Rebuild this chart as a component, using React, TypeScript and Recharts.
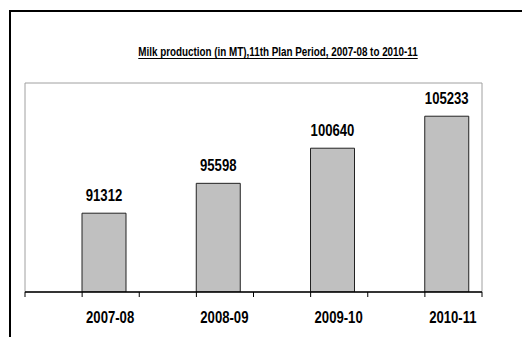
import React from "react";
import { BarChart, Bar, XAxis, YAxis, LabelList, ReferenceArea } from "recharts";

const categories = ["2007-08", "2008-09", "2009-10", "2010-11"];
const production = [91312, 95598, 100640, 105233];
const spacerSeries = [null, null, null, null];
const yDomain = [80000, 110000];

const data = categories.map((c, i) => ({
  year: c,
  spacer: spacerSeries[i],
  value: production[i],
}));

const FONT = '"Liberation Sans", Arial, sans-serif';
const NARROW = 0.82;
const TICK_LEN = 5;

const NarrowText = ({ x, y, children, size }: any) => (
  <g transform={`translate(${x},${y}) scale(${NARROW},1)`}>
    <text x={0} y={0} textAnchor="middle" fontFamily={FONT} fontWeight="bold" fontSize={size} fill="#000">
      {children}
    </text>
  </g>
);

const CategoryTick = (props: any) => {
  const { x, y, payload, index, visibleTicksCount, width } = props;
  const count = visibleTicksCount || categories.length;
  const half = Number(width) > 0 ? Number(width) / count / 2 : 57;
  const axisY = y - TICK_LEN - 2;
  return (
    <g>
      <line x1={x - half} x2={x - half} y1={axisY} y2={axisY + TICK_LEN} stroke="#000" strokeWidth={1} />
      {index === count - 1 && (
        <line x1={x + half} x2={x + half} y1={axisY} y2={axisY + TICK_LEN} stroke="#000" strokeWidth={1} />
      )}
      <NarrowText x={x + 28} y={axisY + 31} size={16}>{payload.value}</NarrowText>
    </g>
  );
};

const ValueLabel = (props: any) => {
  const { x, y, width, value } = props;
  return <NarrowText x={x + width / 2} y={y - 12} size={16}>{value}</NarrowText>;
};

export default function App() {
  return (
    <div
      style={{
        position: "absolute",
        left: 0,
        top: 0,
        width: 522,
        height: 337,
        overflow: "hidden",
        background: "#fff",
      }}
    >
      <div
        style={{
          position: "absolute",
          left: 9,
          top: 10,
          width: 600,
          height: 400,
          borderLeft: "2px solid #000",
          borderTop: "2px solid #000",
        }}
      />
      <div
        style={{
          position: "absolute",
          left: 0,
          top: 47,
          width: 556,
          textAlign: "center",
          fontFamily: FONT,
          fontWeight: "bold",
          fontSize: 12,
          lineHeight: "11px",
          color: "#000",
          textDecoration: "underline",
          textUnderlineOffset: "2px",
          transform: `scaleX(${NARROW})`,
          transformOrigin: "278px 0",
        }}
      >
        Milk production (in MT),11th Plan Period, 2007-08 to 2010-11
      </div>
      <div style={{ position: "absolute", left: 0, top: 0 }}>
        <BarChart
          width={522}
          height={337}
          data={data}
          margin={{ top: 83, right: 40, bottom: 15, left: 25 }}
          barGap={0}
        >
          <YAxis hide width={0} domain={yDomain} type="number" allowDataOverflow />
          <XAxis
            dataKey="year"
            height={30}
            tickSize={TICK_LEN}
            axisLine={{ stroke: "#000", strokeWidth: 1.5 }}
            tickLine={{ stroke: "#000" }}
            tick={<CategoryTick />}
            interval={0}
          />
          <ReferenceArea
            x1={categories[0]}
            x2={categories[categories.length - 1]}
            y1={yDomain[0]}
            y2={yDomain[1]}
            fill="none"
            fillOpacity={0}
            stroke="#a0a0a0"
            strokeWidth={1}
            ifOverflow="visible"
          />
          <Bar dataKey="spacer" barSize={44} fill="none" isAnimationActive={false} />
          <Bar
            dataKey="value"
            barSize={44}
            fill="#c0c0c0"
            stroke="#222"
            strokeWidth={1}
            isAnimationActive={false}
          >
            <LabelList dataKey="value" content={<ValueLabel />} />
          </Bar>
        </BarChart>
      </div>
    </div>
  );
}
